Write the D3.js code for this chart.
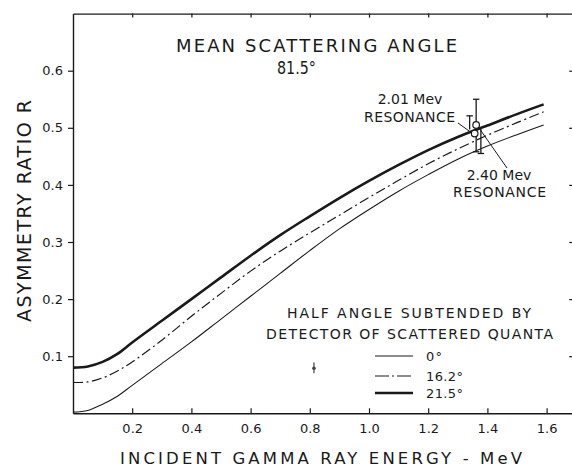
<!DOCTYPE html>
<html>
<head>
<meta charset="utf-8">
<script src="https://cdn.jsdelivr.net/npm/d3@7"></script>
<style>
  html, body { margin: 0; padding: 0; background: #ffffff; }
  svg { display: block; }
  text { font-family: "DejaVu Sans", "Liberation Sans", sans-serif; fill: #1a1a1a; }
</style>
</head>
<body>
<svg id="chart" width="572" height="468"></svg>
<script>
// ---------- data ----------
const energy = [0, 0.05, 0.1, 0.15, 0.2, 0.3, 0.4, 0.5, 0.6, 0.7, 0.8, 0.9, 1.0, 1.1, 1.2, 1.3, 1.4, 1.5, 1.59];
const ratio0   = [0.002, 0.005, 0.016, 0.030, 0.049, 0.087, 0.125, 0.165, 0.205, 0.245, 0.285, 0.323, 0.357, 0.389, 0.418, 0.445, 0.468, 0.488, 0.505];
const ratio162 = [0.054, 0.055, 0.062, 0.074, 0.090, 0.128, 0.170, 0.210, 0.249, 0.284, 0.316, 0.347, 0.378, 0.408, 0.437, 0.463, 0.487, 0.509, 0.528];
const ratio215 = [0.080, 0.082, 0.090, 0.104, 0.124, 0.162, 0.200, 0.238, 0.276, 0.312, 0.345, 0.377, 0.407, 0.435, 0.461, 0.484, 0.504, 0.524, 0.541];
const seriesLabels = ["0°", "16.2°", "21.5°"];

const xTicks = [0.2, 0.4, 0.6, 0.8, 1.0, 1.2, 1.4, 1.6];
const yTicks = [0.1, 0.2, 0.3, 0.4, 0.5, 0.6];

// measured points with error bars
const resPoints = [ {x: 1.357, y: 0.490}, {x: 1.362, y: 0.505} ];
const errBars = [
  {x: 1.362, lo: 0.458, hi: 0.550, capLo: true,  capHi: true},
  {x: 1.340, lo: 0.497, hi: 0.521, capLo: false, capHi: true},
  {x: 1.378, lo: 0.455, hi: 0.498, capLo: true,  capHi: false}
];
const smallPoint = {x: 0.814, y: 0.079, lo: 0.070, hi: 0.089};

const titleLines = ["MEAN SCATTERING ANGLE", "81.5°"];
const resLabels = [["2.01 Mev", "RESONANCE"], ["2.40 Mev", "RESONANCE"]];
const legendTitle = ["HALF ANGLE SUBTENDED BY", "DETECTOR OF SCATTERED QUANTA"];
const xLabel = "INCIDENT GAMMA RAY ENERGY - MeV";
const yLabel = "ASYMMETRY RATIO R";

// ---------- scales ----------
const svg = d3.select("#chart");
const x = d3.scaleLinear().domain([0, 1.7]).range([73, 576.2]);
const y = d3.scaleLinear().domain([0, 0.7]).range([413.3, 13.6]);
const ink = "#1a1a1a";

// ---------- axes ----------
const gLeft = svg.append("g").attr("transform", `translate(${x(0)},0)`)
  .call(d3.axisLeft(y).tickValues(yTicks).tickSizeInner(5).tickSizeOuter(0).tickPadding(5).tickFormat(d3.format(".1f")));
const gBottom = svg.append("g").attr("transform", `translate(0,${y(0)})`)
  .call(d3.axisBottom(x).tickValues(xTicks).tickSizeInner(-5).tickSizeOuter(0).tickPadding(10.5).tickFormat(d3.format(".1f")));
const gTop = svg.append("g").attr("transform", `translate(0,${y(0.7)})`)
  .call(d3.axisTop(x).tickValues(xTicks).tickSizeInner(-4).tickSizeOuter(0).tickFormat(""));
const gRight = svg.append("g").attr("transform", `translate(${x(1.7)},0)`)
  .call(d3.axisRight(y).tickValues(yTicks).tickSizeInner(-7).tickSizeOuter(0).tickFormat(""));

[gLeft, gBottom, gTop, gRight].forEach(g => {
  g.select(".domain").attr("stroke", ink).attr("stroke-width", 1.4);
  g.selectAll(".tick line").attr("stroke", ink).attr("stroke-width", 1.2);
  g.selectAll(".tick text").attr("font-size", 13).attr("fill", "#2a2a2a")
    .style("font-family", "'DejaVu Sans', sans-serif");
});

// ---------- curves ----------
const line = d3.line().x(d => x(d[0])).y(d => y(d[1])).curve(d3.curveCatmullRom.alpha(0.5));
const series = [
  {vals: ratio0,   width: 1.1, dash: null},
  {vals: ratio162, width: 1.2, dash: "10,3.5,2,3.5"},
  {vals: ratio215, width: 2.6, dash: null}
];
series.forEach(s => {
  svg.append("path")
    .datum(energy.map((e, i) => [e, s.vals[i]]))
    .attr("d", line)
    .attr("fill", "none")
    .attr("stroke", ink)
    .attr("stroke-width", s.width)
    .attr("stroke-dasharray", s.dash)
    .attr("stroke-linejoin", "round");
});

// ---------- error bars and points ----------
const capW = 3.2;
errBars.forEach(b => {
  svg.append("line").attr("x1", x(b.x)).attr("x2", x(b.x)).attr("y1", y(b.lo)).attr("y2", y(b.hi))
    .attr("stroke", ink).attr("stroke-width", 1.3);
  if (b.capLo) svg.append("line").attr("x1", x(b.x) - capW).attr("x2", x(b.x) + capW)
    .attr("y1", y(b.lo)).attr("y2", y(b.lo)).attr("stroke", ink).attr("stroke-width", 1.3);
  if (b.capHi) svg.append("line").attr("x1", x(b.x) - capW).attr("x2", x(b.x) + capW)
    .attr("y1", y(b.hi)).attr("y2", y(b.hi)).attr("stroke", ink).attr("stroke-width", 1.3);
});
svg.selectAll("circle.res").data(resPoints).enter().append("circle")
  .attr("class", "res")
  .attr("cx", d => x(d.x)).attr("cy", d => y(d.y)).attr("r", 3.3)
  .attr("fill", "#fff").attr("stroke", ink).attr("stroke-width", 1.2);

// small point near 0.8 MeV
svg.append("line").attr("x1", x(smallPoint.x)).attr("x2", x(smallPoint.x))
  .attr("y1", y(smallPoint.lo)).attr("y2", y(smallPoint.hi)).attr("stroke", "#444").attr("stroke-width", 1.2);
svg.append("circle").attr("cx", x(smallPoint.x)).attr("cy", y(smallPoint.y)).attr("r", 1.8).attr("fill", "#444");

// ---------- annotations ----------
function label(txt, xPos, yPos, size, len, anchor, adjust) {
  const t = svg.append("text").attr("x", xPos).attr("y", yPos).attr("font-size", size)
    .attr("text-anchor", anchor || "start").text(txt);
  if (len) t.attr("textLength", len);
  if (adjust) t.attr("lengthAdjust", adjust);
  return t;
}
label(titleLines[0], 176, 52, 18, 281);
label(titleLines[1], 277, 74, 17, 39, "start", "spacingAndGlyphs");

label(resLabels[0][0], 410, 104, 14, null, "middle");
label(resLabels[0][1], 364, 122, 14, 91);
label(resLabels[1][0], 499, 180, 14, null, "middle");
label(resLabels[1][1], 453, 197, 14, 93);

// pointer lines
svg.append("line").attr("x1", 458).attr("y1", 123).attr("x2", x(resPoints[0].x) - 3.5).attr("y2", y(resPoints[0].y) - 1)
  .attr("stroke", ink).attr("stroke-width", 1);
svg.append("line").attr("x1", 507).attr("y1", 168).attr("x2", x(resPoints[1].x) + 2.5).attr("y2", y(resPoints[1].y) + 2.5)
  .attr("stroke", ink).attr("stroke-width", 1);

// legend
label(legendTitle[0], 287, 318, 14, 244);
label(legendTitle[1], 266, 339, 14, 287);
const legRows = [356, 376, 393];
series.forEach((s, i) => {
  svg.append("line").attr("x1", 375).attr("x2", 413).attr("y1", legRows[i]).attr("y2", legRows[i])
    .attr("stroke", ink).attr("stroke-width", s.width).attr("stroke-dasharray", s.dash ? "14,3,2,3" : null);
  label(seriesLabels[i], 426, legRows[i] + 4.5, 13, i === 0 ? 16 : 37);
});

// axis titles
label(xLabel, 120, 463.5, 16.5, 402);
svg.append("text").attr("transform", "translate(31,211) rotate(-90)")
  .attr("text-anchor", "middle").attr("font-size", 19).attr("textLength", 222).text(yLabel);
</script>
</body>
</html>
